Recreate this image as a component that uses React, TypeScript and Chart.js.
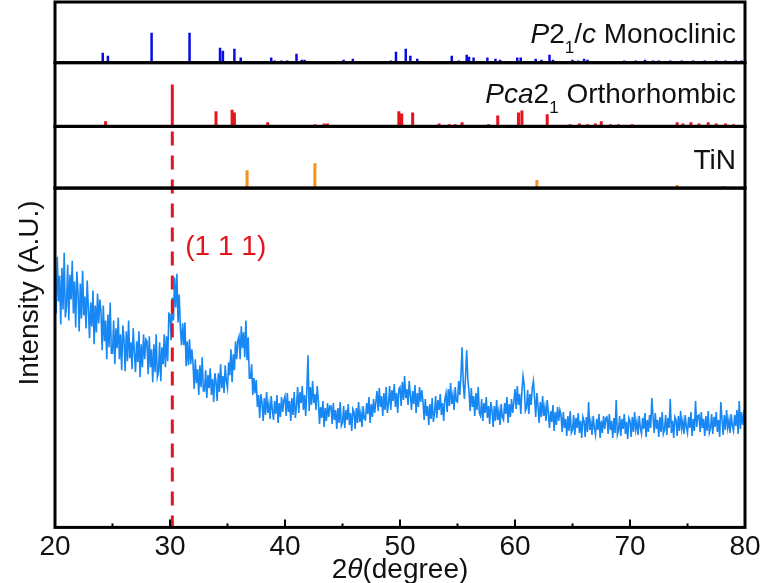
import React, { useEffect, useRef } from "react";
import { Chart, registerables } from "chart.js";

Chart.register(...registerables);

// ---- data ----
const X_MIN = 20;
const X_MAX = 80;
const X_MINOR_TICKS = [25, 35, 45, 55, 65, 75];
const X_MAJOR_TICKS = [20, 30, 40, 50, 60, 70, 80];

// measured scan, 20.0° .. 80.0° every 0.1°
const SCAN_START = 20;
const SCAN_STEP = 0.1;
const scanIntensity = [
  239, 189, 246, 201, 227, 178, 235, 193, 250, 185,
  196, 238, 182, 228, 203, 242, 189, 221, 175, 231,
  210, 171, 219, 184, 232, 187, 206, 174, 222, 194,
  164, 200, 176, 212, 158, 197, 170, 209, 179, 203,
  191, 152, 197, 161, 182, 143, 188, 155, 200, 149,
  149, 182, 138, 174, 154, 185, 143, 168, 132, 177,
  163, 131, 171, 141, 182, 144, 160, 133, 174, 150,
  130, 161, 140, 171, 125, 158, 135, 168, 143, 163,
  161, 128, 166, 135, 153, 120, 158, 130, 168, 125,
  130, 160, 121, 155, 138, 168, 135, 166, 141, 189,
  188, 162, 205, 182, 225, 195, 229, 180, 208, 175,
  157, 179, 157, 180, 136, 161, 137, 163, 138, 153,
  139, 113, 143, 119, 133, 107, 137, 115, 145, 111,
  111, 132, 104, 127, 114, 134, 107, 123, 100, 129,
  121, 101, 129, 110, 138, 114, 126, 109, 137, 121,
  114, 140, 127, 153, 120, 148, 132, 161, 143, 162,
  166, 143, 176, 154, 170, 145, 182, 142, 165, 124,
  124, 138, 107, 124, 109, 122, 95, 107, 84, 108,
  100, 81, 104, 87, 110, 89, 98, 83, 106, 92,
  82, 101, 88, 107, 79, 99, 85, 105, 90, 102,
  106, 86, 109, 90, 101, 81, 104, 87, 110, 84,
  96, 115, 89, 110, 99, 116, 92, 107, 86, 112,
  147, 91, 115, 97, 121, 99, 108, 92, 116, 102,
  78, 95, 84, 101, 75, 94, 81, 99, 85, 96,
  96, 78, 99, 82, 92, 73, 94, 79, 100, 76,
  79, 96, 74, 92, 82, 98, 77, 89, 71, 93,
  90, 73, 94, 79, 100, 80, 89, 75, 96, 83,
  82, 99, 88, 105, 79, 98, 85, 103, 89, 100,
  111, 91, 114, 95, 106, 86, 109, 92, 115, 89,
  98, 116, 92, 112, 101, 118, 95, 109, 89, 113,
  115, 96, 120, 102, 126, 104, 113, 97, 121, 107,
  92, 111, 98, 117, 89, 109, 95, 115, 100, 112,
  100, 82, 103, 86, 96, 77, 98, 83, 104, 80,
  89, 106, 84, 102, 92, 108, 87, 99, 81, 103,
  109, 90, 113, 96, 119, 98, 107, 92, 115, 101,
  100, 121, 107, 127, 155, 119, 103, 126, 152, 122,
  111, 91, 114, 95, 106, 86, 109, 92, 115, 89,
  86, 103, 81, 99, 89, 105, 84, 96, 78, 100,
  92, 75, 96, 81, 102, 82, 91, 77, 98, 85,
  82, 99, 88, 105, 79, 98, 85, 103, 89, 100,
  113, 93, 116, 97, 108, 88, 111, 126, 117, 91,
  94, 112, 88, 108, 97, 114, 121, 105, 85, 109,
  96, 79, 100, 85, 106, 86, 95, 81, 102, 89,
  74, 91, 80, 97, 71, 90, 77, 95, 81, 92,
  87, 70, 90, 74, 83, 66, 86, 71, 91, 69,
  72, 87, 67, 84, 74, 89, 69, 81, 64, 85,
  81, 65, 85, 70, 100, 72, 80, 67, 86, 74,
  67, 83, 72, 88, 64, 81, 69, 86, 73, 84,
  85, 68, 88, 72, 81, 64, 84, 69, 102, 67,
  71, 86, 66, 83, 73, 88, 68, 80, 63, 84,
  81, 65, 85, 70, 90, 72, 80, 67, 86, 74,
  68, 84, 73, 89, 65, 82, 70, 87, 74, 104,
  86, 69, 89, 73, 82, 65, 85, 70, 90, 68,
  72, 87, 67, 84, 74, 103, 69, 81, 64, 85,
  82, 66, 86, 71, 91, 73, 81, 68, 87, 75,
  69, 85, 74, 90, 66, 83, 71, 101, 75, 86,
  87, 70, 90, 74, 83, 66, 86, 71, 91, 69,
  73, 88, 68, 85, 75, 90, 70, 82, 65, 100,
  83, 67, 87, 72, 92, 74, 82, 69, 88, 76,
  71, 87, 76, 92, 68, 101, 73, 90, 77, 88,
  82,
];
const SCAN_AXIS_MIN = -26;
const SCAN_AXIS_MAX = 315;

const monoPos = [
  24.15, 24.6, 28.4, 31.7, 34.35, 34.6, 35.6, 36.15, 38.8, 39.1,
  39.7, 40.2, 41.0, 41.45, 41.7, 45.1, 45.9, 49.2, 49.65, 50.5,
  50.9, 51.5, 54.5, 55.1, 55.8, 56.0, 56.4, 57.6, 58.3, 58.7,
  60.2, 60.5, 61.8, 62.3, 63.0, 63.3, 65.0, 65.5, 66.0, 66.3,
  69.5, 70.5, 71.3, 72.0, 72.5, 73.5, 74.5, 75.5, 76.5, 77.5,
  78.3, 79.2, 79.7,
];
const monoInt = [
  33, 23, 100, 100, 50, 40, 47, 17, 17, 7,
  7, 7, 30, 10, 10, 10, 13, 7, 37, 47,
  23, 13, 23, 7, 27, 20, 17, 17, 13, 10,
  17, 17, 13, 10, 27, 10, 10, 7, 13, 10,
  7, 7, 10, 7, 7, 7, 7, 7, 7, 7,
  7, 7, 7,
];

const orthoPos = [
  24.4, 30.2, 34.0, 35.4, 35.6, 38.5, 39.7, 42.6, 43.4, 43.7,
  49.9, 50.15, 51.1, 53.4, 54.3, 54.8, 55.4, 57.7, 58.5, 60.3,
  60.6, 62.8, 64.8, 65.6, 66.3, 67.0, 67.5, 68.3, 69.0, 70.2,
  74.1, 74.6, 75.3, 76.0, 76.8, 77.5, 78.3, 79.0,
];
const orthoInt = [
  12, 100, 36, 40, 33, 10, 3, 5, 7, 7,
  36, 31, 33, 7, 5, 5, 10, 5, 26, 33,
  38, 29, 5, 7, 5, 7, 12, 5, 5, 5,
  10, 7, 10, 7, 10, 7, 7, 5,
];

const tinPos = [36.7, 42.6, 61.9, 74.1, 78.1];
const tinInt = [72, 100, 32, 12, 8];

const REF_LINE_X = 30.2;
const REF_LABEL = "(1 1 1)";

const FONT = "'Liberation Sans', Arial, Helvetica, sans-serif";

type Seg = { t: string; i?: boolean; sub?: boolean };

function sticks(pos: number[], ints: number[]) {
  const out: any[] = [];
  pos.forEach((p, k) => {
    out.push({ x: p, y: 0 }, { x: p, y: ints[k] }, { x: p, y: null });
  });
  return out;
}

function drawRich(ctx: CanvasRenderingContext2D, segs: Seg[], xRight: number, baseline: number, size: number) {
  const subSize = Math.round(size * 0.6);
  const fontOf = (s: Seg) => `${s.i ? "italic " : ""}${s.sub ? subSize : size}px ${FONT}`;
  let w = 0;
  segs.forEach((s) => {
    ctx.font = fontOf(s);
    w += ctx.measureText(s.t).width;
  });
  let x = xRight - w;
  ctx.textAlign = "left";
  ctx.textBaseline = "alphabetic";
  segs.forEach((s) => {
    ctx.font = fontOf(s);
    ctx.fillText(s.t, x, baseline + (s.sub ? size * 0.36 : 0));
    x += ctx.measureText(s.t).width;
  });
}

const decorPlugin = {
  id: "decor",
  afterDatasetsDraw(chart: any) {
    const { ctx, chartArea: a, scales } = chart;
    const xs = scales.x;
    const yMain = scales.y;
    const yTin = scales.yTin;
    const yOrtho = scales.yOrtho;
    const yMono = scales.yMono;
    ctx.save();

    // reference dashed line
    const rx = xs.getPixelForValue(REF_LINE_X);
    ctx.strokeStyle = "#e4141d";
    ctx.lineWidth = 3;
    ctx.setLineDash([14, 10]);
    ctx.beginPath();
    ctx.moveTo(rx, yTin.top + 5);
    ctx.lineTo(rx, yMain.bottom);
    ctx.stroke();
    ctx.setLineDash([]);

    // frames
    ctx.strokeStyle = "#000";
    ctx.lineWidth = 3;
    [yMono, yOrtho, yTin, yMain].forEach((s: any) => {
      ctx.strokeRect(a.left, s.top, a.right - a.left, s.bottom - s.top);
    });

    // inward ticks
    ctx.lineWidth = 2;
    X_MAJOR_TICKS.forEach((v) => {
      const px = xs.getPixelForValue(v);
      ctx.beginPath();
      ctx.moveTo(px, yMain.bottom);
      ctx.lineTo(px, yMain.bottom - 8);
      ctx.stroke();
    });
    X_MINOR_TICKS.forEach((v) => {
      const px = xs.getPixelForValue(v);
      ctx.beginPath();
      ctx.moveTo(px, yMain.bottom);
      ctx.lineTo(px, yMain.bottom - 4);
      ctx.stroke();
    });

    // panel labels
    ctx.fillStyle = "#111";
    const rightX = a.right - 9;
    drawRich(ctx, [{ t: "P", i: true }, { t: "2" }, { t: "1", sub: true }, { t: "/" }, { t: "c", i: true }, { t: " Monoclinic" }], rightX, yMono.top + 41, 28);
    drawRich(ctx, [{ t: "Pca", i: true }, { t: "2" }, { t: "1", sub: true }, { t: " Orthorhombic" }], rightX, yOrtho.top + 40, 28);
    drawRich(ctx, [{ t: "TiN" }], rightX, yTin.top + 43, 28);

    // (1 1 1) label
    ctx.fillStyle = "#e4141d";
    ctx.font = `28px ${FONT}`;
    ctx.textAlign = "left";
    ctx.textBaseline = "alphabetic";
    ctx.fillText(REF_LABEL, rx + 13, yMain.top + 67);

    // x title
    ctx.fillStyle = "#111";
    const cx = (a.left + a.right) / 2;
    const segs: Seg[] = [{ t: "2" }, { t: "θ", i: true }, { t: "(degree)" }];
    let w = 0;
    segs.forEach((s) => {
      ctx.font = `${s.i ? "italic " : ""}28px ${FONT}`;
      w += ctx.measureText(s.t).width;
    });
    drawRich(ctx, segs, cx + w / 2, 578, 28);

    // y title
    ctx.save();
    ctx.translate(30, 293);
    ctx.rotate(-Math.PI / 2);
    ctx.font = `28px ${FONT}`;
    ctx.textAlign = "center";
    ctx.textBaseline = "middle";
    ctx.fillText("Intensity (A.U.)", 0, 0);
    ctx.restore();

    ctx.restore();
  },
};

function panelAxis(min: number, max: number, weight: number) {
  return {
    type: "linear" as const,
    axis: "y" as const,
    position: "left" as const,
    stack: "panels",
    stackWeight: weight,
    min,
    max,
    display: true,
    ticks: { display: false },
    grid: { display: false, drawTicks: false },
    border: { display: false },
  };
}

export default function App() {
  const ref = useRef<HTMLCanvasElement | null>(null);

  useEffect(() => {
    if (!ref.current) return;
    const scan = scanIntensity.map((v, i) => ({ x: SCAN_START + i * SCAN_STEP, y: v }));
    const chart = new Chart(ref.current, {
      type: "line",
      data: {
        datasets: [
          {
            label: "scan",
            data: scan,
            yAxisID: "y",
            borderColor: "#1787f4",
            borderWidth: 1.6,
            pointRadius: 0,
            tension: 0,
          },
          {
            label: "P21/c",
            data: sticks(monoPos, monoInt),
            yAxisID: "yMono",
            borderColor: "#0b0be6",
            borderWidth: 2.5,
            borderCapStyle: "butt",
            pointRadius: 0,
            spanGaps: false,
          },
          {
            label: "Pca21",
            data: sticks(orthoPos, orthoInt),
            yAxisID: "yOrtho",
            borderColor: "#e4141d",
            borderWidth: 3,
            borderCapStyle: "butt",
            pointRadius: 0,
            spanGaps: false,
          },
          {
            label: "TiN",
            data: sticks(tinPos, tinInt),
            yAxisID: "yTin",
            borderColor: "#f5921e",
            borderWidth: 3,
            borderCapStyle: "butt",
            pointRadius: 0,
            spanGaps: false,
          },
        ] as any,
      },
      options: {
        responsive: false,
        animation: false,
        events: [],
        layout: { padding: { left: 55, right: 20, top: 2, bottom: 16 } },
        plugins: { legend: { display: false }, tooltip: { enabled: false } },
        scales: {
          x: {
            type: "linear",
            min: X_MIN,
            max: X_MAX,
            ticks: {
              stepSize: 10,
              maxRotation: 0,
              padding: 3,
              color: "#111",
              font: { family: FONT, size: 28 },
            },
            grid: { display: false, drawTicks: false },
            border: { display: false },
          },
          y: panelAxis(SCAN_AXIS_MIN, SCAN_AXIS_MAX, 341),
          yTin: panelAxis(0, 248, 62),
          yOrtho: panelAxis(0, 152, 64),
          yMono: panelAxis(0, 203, 61),
        } as any,
      },
      plugins: [decorPlugin],
    });
    return () => chart.destroy();
  }, []);

  return (
    <canvas
      ref={ref}
      width={765}
      height={583}
      style={{ position: "fixed", left: 0, top: 0, width: 765, height: 583 }}
    />
  );
}
